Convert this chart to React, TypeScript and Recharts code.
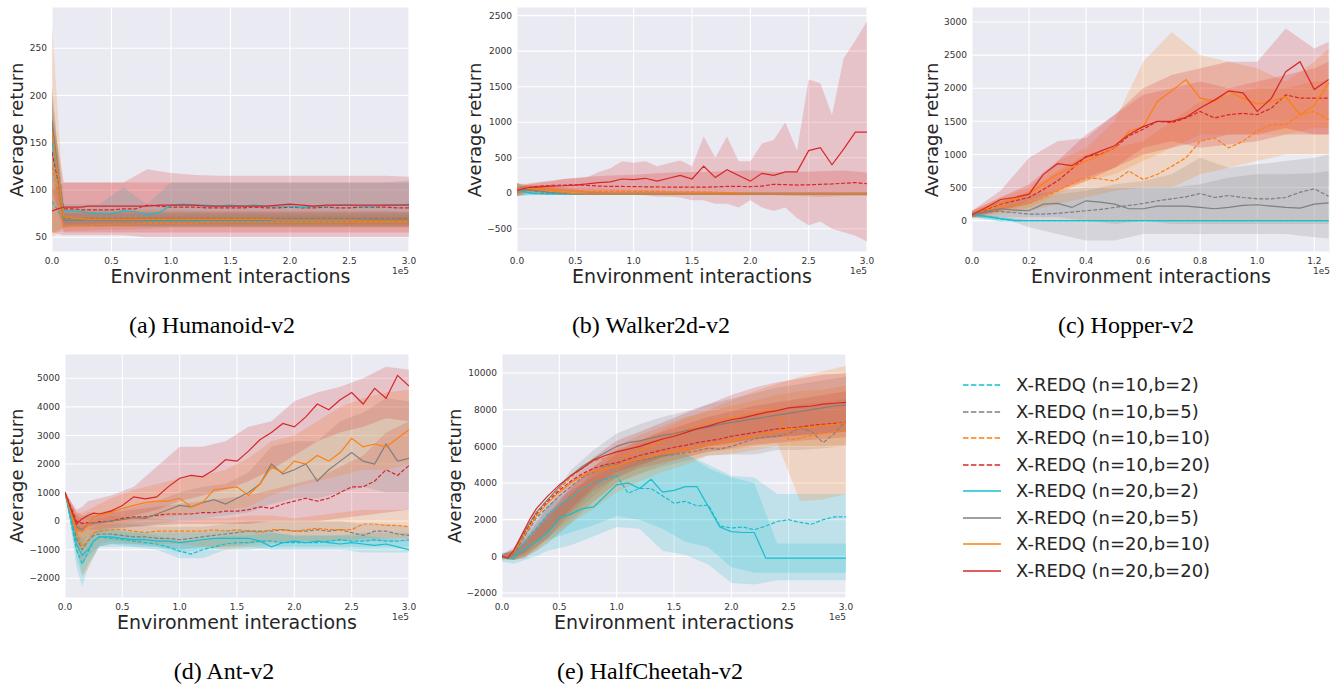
import React from "react";
import { ComposedChart, Line, Area, XAxis, YAxis, CartesianGrid } from "recharts";

const SANS = "'DejaVu Sans', Verdana, sans-serif";
const SERIF = "'Liberation Serif', 'Times New Roman', serif";
const INK = "#262626";

// legend / drawing order
const seriesNames = [
  "X-REDQ (n=10,b=2)",
  "X-REDQ (n=10,b=5)",
  "X-REDQ (n=10,b=10)",
  "X-REDQ (n=10,b=20)",
  "X-REDQ (n=20,b=2)",
  "X-REDQ (n=20,b=5)",
  "X-REDQ (n=20,b=10)",
  "X-REDQ (n=20,b=20)",
];
const seriesColors = ["#17becf", "#7f7f7f", "#ff7f0e", "#d62728", "#17becf", "#7f7f7f", "#ff7f0e", "#d62728"];
const seriesDashed = [true, true, true, true, false, false, false, false];

// x values in units of 1e5 environment interactions
const xMain = [0, 0.05, 0.1, 0.15, 0.2, 0.25, 0.3, 0.4, 0.5, 0.6, 0.7, 0.8, 0.9, 1.0, 1.1, 1.2, 1.3, 1.4, 1.5, 1.6, 1.7, 1.8, 1.9, 2.0, 2.1, 2.2, 2.3, 2.4, 2.5, 2.6, 2.7, 2.8, 2.9, 3.0];
const xBand = [0, 0.1, 0.2, 0.3, 0.4, 0.6, 0.8, 1.0, 1.2, 1.4, 1.6, 1.8, 2.0, 2.2, 2.4, 2.6, 2.8, 3.0];
const xBandAnt = [0, 0.05, 0.1, 0.15, 0.2, 0.3, 0.4, 0.6, 0.8, 1.0, 1.2, 1.4, 1.6, 1.8, 2.0, 2.2, 2.4, 2.6, 2.8, 3.0];
const xTenths = [0, 0.1, 0.2, 0.3, 0.4, 0.5, 0.6, 0.7, 0.8, 0.9, 1.0, 1.1, 1.2, 1.3, 1.4, 1.5, 1.6, 1.7, 1.8, 1.9, 2.0, 2.1, 2.2, 2.3, 2.4, 2.5, 2.6, 2.7, 2.8, 2.9, 3.0];
const xHopper = [0, 0.05, 0.1, 0.15, 0.2, 0.25, 0.3, 0.35, 0.4, 0.45, 0.5, 0.55, 0.6, 0.65, 0.7, 0.75, 0.8, 0.85, 0.9, 0.95, 1.0, 1.05, 1.1, 1.15, 1.2, 1.25];
const xBandHopper = [0, 0.1, 0.2, 0.3, 0.4, 0.5, 0.6, 0.7, 0.8, 0.9, 1.0, 1.1, 1.2, 1.25];

const xTicksLong = [0, 0.5, 1, 1.5, 2, 2.5, 3];
const xTicksHopper = [0, 0.2, 0.4, 0.6, 0.8, 1.0, 1.2];

// ---------- (a) Humanoid-v2 ----------
const humanoidMeans = [
  [88, 78, 68, 68, 68, 68, 68, 68, 68, 68, 68, 67, 67, 67, 67, 67, 67, 67, 67, 67, 67, 67, 67, 67, 67, 67, 67, 67, 68, 67, 67, 67, 67, 67],
  [165, 118, 71, 70, 70, 70, 70, 70, 70, 70, 70, 70, 70, 70, 70, 70, 70, 70, 70, 70, 70, 70, 70, 70, 70, 70, 70, 70, 70, 70, 70, 70, 70, 70],
  [125, 94, 62, 62, 63, 63, 63, 64, 64, 64, 64, 65, 65, 65, 65, 65, 66, 66, 66, 66, 66, 66, 66, 66, 66, 66, 66, 66, 66, 66, 66, 66, 66, 66],
  [140, 110, 80, 80, 80, 79, 79, 79, 79, 80, 80, 84, 83, 82, 82, 82, 81, 81, 81, 81, 82, 81, 81, 82, 81, 81, 82, 81, 81, 82, 82, 82, 81, 81],
  [152, 115, 78, 78, 78, 77, 76, 75, 75, 78, 77, 74, 76, 84, 85, 84, 84, 83, 84, 83, 84, 83, 83, 83, 82, 83, 83, 84, 84, 83, 83, 84, 84, 85],
  [173, 120, 68, 68, 68, 68, 68, 68, 68, 68, 68, 68, 68, 68, 68, 68, 68, 68, 68, 68, 68, 68, 68, 68, 68, 68, 68, 68, 68, 68, 68, 68, 68, 68],
  [162, 117, 72, 71, 70, 70, 69, 69, 69, 69, 69, 69, 69, 69, 69, 69, 69, 69, 69, 69, 69, 69, 68, 68, 68, 68, 68, 68, 68, 67, 67, 67, 67, 67],
  [78, 80, 82, 82, 82, 82, 83, 83, 83, 83, 83, 83, 84, 84, 84, 84, 83, 83, 83, 83, 83, 83, 84, 85, 84, 83, 84, 84, 84, 84, 84, 84, 84, 84],
];
const humanoidLo = [
  [55, 60, 61, 61, 61, 61, 61, 61, 61, 61, 61, 61, 61, 61, 61, 61, 61, 61],
  [125, 64, 64, 64, 64, 64, 64, 64, 64, 64, 64, 64, 64, 64, 64, 64, 64, 64],
  [55, 56, 57, 57, 58, 58, 59, 60, 60, 60, 60, 60, 60, 60, 60, 60, 60, 60],
  [100, 55, 55, 55, 55, 55, 55, 55, 55, 55, 55, 55, 55, 55, 55, 55, 55, 55],
  [110, 62, 62, 62, 62, 62, 62, 62, 62, 62, 62, 62, 62, 62, 62, 62, 62, 62],
  [130, 62, 62, 62, 62, 62, 62, 62, 62, 62, 62, 62, 62, 62, 62, 62, 62, 62],
  [50, 60, 61, 61, 61, 61, 61, 61, 61, 61, 61, 61, 61, 61, 61, 61, 61, 61],
  [55, 52, 52, 52, 52, 52, 50, 50, 50, 50, 50, 50, 50, 50, 50, 50, 50, 50],
];
const humanoidHi = [
  [120, 76, 75, 75, 75, 75, 75, 74, 74, 74, 74, 74, 74, 74, 74, 74, 74, 74],
  [205, 78, 77, 77, 77, 77, 77, 77, 77, 77, 77, 77, 77, 77, 77, 77, 77, 77],
  [195, 70, 70, 70, 70, 71, 71, 72, 72, 72, 72, 72, 72, 72, 72, 72, 72, 72],
  [180, 108, 108, 108, 108, 108, 108, 108, 108, 108, 108, 108, 108, 108, 108, 108, 108, 108],
  [195, 85, 85, 85, 85, 103, 85, 108, 108, 108, 108, 108, 108, 108, 108, 108, 108, 110],
  [210, 76, 76, 76, 76, 76, 76, 76, 76, 76, 76, 76, 76, 76, 76, 76, 76, 76],
  [275, 82, 80, 79, 79, 79, 79, 79, 78, 78, 78, 78, 78, 78, 78, 78, 78, 77],
  [100, 108, 108, 108, 108, 108, 122, 118, 116, 115, 115, 115, 115, 115, 115, 115, 115, 114],
];

// ---------- (b) Walker2d-v2 ----------
const walkerMeans = [
  [50, 30, 10, 0, -5, -8, -10, -10, -10, -10, -10, -10, -10, -10, -10, -10, -10, -10, -10, -10, -10, -10, -10, -10, -10, -10, -10, -10, -10, -10, -10, -10, -10, -10],
  [40, 50, 40, 30, 20, 10, 5, -5, -10, -10, -10, -10, -10, -10, -10, -10, -10, -10, -10, -10, -10, -10, -10, -10, -10, -10, -10, -10, -10, -10, -10, -10, -10, -10],
  [60, 55, 50, 45, 40, 40, 40, 35, 30, 25, 25, 25, 25, 25, 25, 25, 20, 20, 20, 20, 15, 10, 5, -5, -10, -10, -10, -10, -10, -10, -10, -10, -10, -10],
  [40, 60, 80, 90, 100, 105, 110, 115, 117, 110, 100, 95, 95, 93, 90, 88, 86, 85, 85, 85, 90, 95, 95, 93, 100, 125, 120, 115, 118, 125, 130, 140, 150, 133],
  [50, 25, 5, -5, -8, -10, -10, -10, -10, -10, -10, -10, -10, -10, -10, -10, -10, -10, -10, -10, -10, -10, -10, -10, -10, -10, -10, -10, -10, -10, -10, -10, -10, -10],
  [40, 55, 50, 40, 30, 20, 10, 0, -10, -10, -10, -10, -10, -10, -10, -10, -10, -10, -10, -10, -10, -10, -10, -10, -10, -10, -10, -10, -10, -10, -10, -10, -10, -10],
  [40, 60, 70, 60, 50, 40, 30, 10, -5, -10, -10, -10, -10, -10, -10, -10, -10, -10, -10, -10, -10, -10, -10, -10, -10, -10, -10, -10, -10, -10, -10, -10, -10, -10],
  [40, 60, 80, 85, 90, 95, 100, 105, 115, 130, 150, 160, 200, 190, 210, 170, 210, 250, 200, 380, 220, 330, 250, 170, 280, 250, 300, 300, 600, 640, 400, 620, 860, 860],
];
const walkerLo = [
  [-40, -30, -25, -25, -25, -25, -25, -25, -25, -25, -25, -25, -25, -25, -25, -25, -25, -25],
  [-40, -10, -10, -15, -20, -20, -25, -25, -25, -25, -25, -25, -25, -25, -25, -25, -25, -25],
  [-40, 10, 0, 0, 0, -10, -10, -10, -10, -10, -15, -15, -20, -20, -20, -20, -20, -20],
  [0, 30, 30, 20, 10, 0, -10, -10, -20, -20, -20, -30, -30, -30, -40, -50, -40, -40],
  [-40, -30, -25, -25, -25, -25, -25, -25, -25, -25, -25, -25, -25, -25, -25, -25, -25, -25],
  [-40, 0, 0, -10, -20, -20, -25, -25, -25, -25, -25, -25, -25, -25, -25, -25, -25, -25],
  [-40, 20, 0, -10, -20, -25, -25, -25, -25, -25, -25, -25, -25, -25, -25, -25, -25, -25],
  null,
];
const walkerHi = [
  [140, 50, 15, 10, 10, 10, 10, 10, 10, 10, 10, 10, 10, 10, 10, 10, 10, 10],
  [140, 100, 80, 60, 40, 20, 10, 10, 10, 10, 10, 10, 10, 10, 10, 10, 10, 10],
  [140, 110, 100, 90, 80, 70, 60, 50, 40, 30, 20, 15, 10, 10, 10, 10, 10, 10],
  [80, 140, 160, 180, 200, 230, 250, 260, 280, 300, 300, 310, 320, 300, 300, 310, 320, 290],
  [140, 40, 10, 10, 10, 10, 10, 10, 10, 10, 10, 10, 10, 10, 10, 10, 10, 10],
  [140, 110, 100, 80, 60, 30, 10, 10, 10, 10, 10, 10, 10, 10, 10, 10, 10, 10],
  [140, 130, 110, 100, 80, 30, 10, 10, 10, 10, 10, 10, 10, 10, 10, 10, 10, 10],
  null,
];
// n=20,b=20 band in Walker2d is very spiky: read every 0.1e5
const walkerRedLo = [-20, 40, 50, 40, 30, 20, 10, -10, -20, -10, -20, -30, -50, -50, -60, -100, -100, -150, -150, -200, -100, -200, -250, -200, -350, -450, -400, -500, -550, -600, -680];
const walkerRedHi = [80, 120, 150, 170, 200, 210, 220, 300, 350, 450, 430, 450, 380, 420, 460, 380, 800, 500, 800, 450, 450, 700, 750, 1000, 600, 1600, 1550, 1100, 1900, 2150, 2420];

// ---------- (c) Hopper-v2 ----------
const hopperMeans = [
  [90, 60, 25, 0, 0, 0, 0, 0, 0, 0, 0, 0, 0, 0, 0, 0, 0, 0, 0, 0, 0, 0, 0, 0, 0, 0],
  [90, 130, 140, 120, 100, 100, 110, 130, 150, 170, 200, 230, 260, 300, 330, 360, 410, 350, 380, 350, 330, 330, 350, 430, 480, 370],
  [90, 150, 200, 230, 260, 350, 450, 560, 650, 630, 600, 750, 620, 700, 820, 950, 1200, 1250, 1100, 1200, 1350, 1450, 1450, 1600, 1650, 1520],
  [90, 170, 250, 300, 350, 470, 600, 780, 970, 1000, 1100, 1280, 1380, 1500, 1480, 1550, 1650, 1550, 1600, 1620, 1600, 1700, 1900, 1850, 1850, 1850],
  [95, 65, 30, 2, 0, 0, 0, 0, 0, 0, 0, 0, 0, 0, 0, 0, 0, 0, 0, 0, 0, 0, 0, 0, 0, 0],
  [80, 140, 180, 160, 150, 250, 260, 200, 300, 280, 250, 180, 180, 220, 220, 220, 200, 180, 200, 230, 240, 220, 200, 190, 250, 270],
  [90, 180, 260, 330, 400, 560, 700, 800, 900, 990, 1100, 1350, 1420, 1800, 1960, 2130, 1850, 1800, 1950, 1850, 1760, 1800, 1870, 1600, 1740, 2080],
  [90, 200, 320, 350, 400, 700, 860, 830, 960, 1050, 1130, 1300, 1420, 1500, 1500, 1560, 1700, 1820, 1960, 1930, 1650, 1850, 2250, 2400, 1980, 2130],
];
const hopperLo = [
  [60, -10, -5, -3, 0, 0, 0, 0, 0, 0, 0, 0, 0, 0],
  [50, 50, -100, -200, -300, -300, -200, -200, -200, -200, -200, -200, -250, -270],
  [50, 100, 150, 250, 350, 450, 500, 500, 700, 800, 900, 1000, 1000, 1000],
  [50, 150, 300, 450, 650, 800, 1100, 1200, 1100, 1150, 1200, 1300, 1300, 1300],
  [60, -15, -5, -3, 0, 0, 0, 0, 0, 0, 0, 0, 0, 0],
  [40, 50, 50, 50, 0, -50, 0, -50, -50, -50, -50, -50, -50, -50],
  [40, 150, 200, 400, 600, 700, 900, 1100, 1300, 1300, 1300, 1300, 1400, 1400],
  [50, 150, 250, 450, 600, 800, 1000, 1100, 1200, 1300, 1300, 1400, 1300, 1300],
];
const hopperHi = [
  [110, 50, 5, 3, 0, 0, 0, 0, 0, 0, 0, 0, 0, 0],
  [130, 200, 300, 400, 450, 550, 600, 700, 950, 800, 850, 900, 950, 1000],
  [150, 300, 450, 750, 1000, 1100, 1200, 1500, 1800, 1900, 2000, 2000, 2100, 2100],
  [150, 350, 550, 900, 1300, 1600, 1900, 2000, 2100, 2000, 2100, 2200, 2300, 2400],
  [115, 55, 5, 3, 0, 0, 0, 0, 0, 0, 0, 0, 0, 0],
  [120, 300, 400, 450, 500, 500, 500, 500, 550, 650, 700, 700, 720, 750],
  [150, 350, 500, 900, 1100, 1500, 2400, 2850, 2500, 2400, 2300, 2100, 2400, 2600],
  [150, 450, 950, 1200, 1250, 1600, 2000, 2200, 2300, 2400, 2400, 2900, 2600, 2700],
];

// ---------- (d) Ant-v2 ----------
const antMeans = [
  [1000, 0, -1000, -1500, -1100, -700, -550, -600, -650, -700, -750, -800, -900, -1050, -1150, -1000, -900, -800, -750, -750, -700, -700, -750, -750, -750, -750, -700, -650, -700, -700, -650, -700, -700, -650],
  [1000, 200, -600, -1000, -700, -500, -450, -450, -500, -550, -550, -600, -600, -650, -600, -550, -500, -450, -400, -350, -350, -350, -300, -350, -350, -300, -350, -300, -400, -500, -350, -350, -450, -500],
  [1000, 200, -400, -900, -700, -400, -350, -300, -300, -350, -400, -350, -350, -350, -350, -350, -300, -350, -300, -350, -400, -300, -300, -350, -300, -250, -300, -300, -300, -100, -100, -150, -150, -200],
  [1000, 500, 0, -80, -50, -50, -20, 0, 100, 150, 150, 200, 250, 250, 250, 300, 300, 350, 350, 400, 500, 450, 600, 700, 800, 700, 800, 1000, 1200, 1200, 1400, 1800, 1600, 1950],
  [1000, 100, -800, -1200, -1000, -700, -550, -550, -600, -650, -650, -700, -700, -750, -700, -650, -600, -600, -600, -600, -700, -900, -750, -700, -750, -700, -750, -800, -750, -800, -850, -800, -900, -1000],
  [1000, 400, -200, -300, -100, -50, -50, 0, 50, 120, 100, 250, 400, 550, 500, 650, 750, 600, 800, 1000, 1300, 2000, 1650, 1800, 2000, 1400, 1800, 2100, 2400, 2100, 2000, 2700, 2100, 2200],
  [1000, 300, -300, -380, -100, 150, 200, 300, 450, 550, 650, 700, 700, 800, 500, 650, 1100, 1150, 1200, 900, 1300, 1900, 1700, 2100, 2000, 2300, 2100, 2400, 2900, 2600, 2700, 2600, 2900, 3200],
  [1000, 450, -100, 80, 200, 280, 250, 350, 550, 850, 780, 850, 1200, 1500, 1600, 1550, 1800, 2150, 2100, 2450, 2850, 3100, 3420, 3300, 3650, 4100, 3900, 4250, 4500, 4100, 4650, 4300, 5100, 4730],
];
const antLo = [
  [950, -200, -1600, -2300, -1600, -900, -900, -900, -1000, -1300, -1300, -1000, -1000, -900, -900, -900, -900, -900, -900, -900],
  [950, 0, -1100, -1500, -1200, -900, -800, -800, -900, -1000, -900, -900, -800, -700, -700, -700, -700, -700, -700, -700],
  [950, 0, -900, -1900, -1700, -800, -700, -800, -800, -800, -900, -1000, -900, -800, -700, -700, -700, -600, -600, -600],
  [950, 200, -300, -400, -300, -300, -250, -200, -150, -100, -100, -100, -100, 0, 0, 0, 100, 200, 300, 400],
  [950, -100, -1300, -1900, -1500, -900, -800, -900, -900, -1100, -1000, -900, -900, -1000, -1000, -1000, -1000, -1100, -1100, -1100],
  [950, 100, -700, -800, -500, -400, -300, -200, -100, 0, 100, 200, 300, 600, 800, 800, 1000, 1200, 1000, 1000],
  [950, 100, -900, -1000, -600, -300, -200, 0, 100, 200, 300, 400, 500, 900, 1200, 1400, 1600, 1800, 1800, 2000],
  [950, 200, -400, -300, -200, -100, 0, 200, 400, 700, 900, 1100, 1400, 1800, 2300, 2800, 3100, 3300, 3600, 3500],
];
const antHi = [
  [1050, 300, -400, -800, -600, -300, -300, -400, -500, -700, -700, -500, -500, -400, -500, -500, -500, -400, -400, -400],
  [1050, 400, 0, -400, -300, -100, -100, -100, -200, -200, -200, -100, 0, 0, 0, 0, 0, -100, -100, -200],
  [1050, 400, 200, -100, 0, 100, 200, 100, 100, 0, 100, 100, 200, 200, 100, 200, 300, 400, 400, 400],
  [1050, 700, 300, 200, 200, 200, 300, 400, 500, 600, 700, 800, 900, 1100, 1300, 1500, 1900, 2300, 3100, 3500],
  [1050, 300, -300, -600, -500, -300, -300, -400, -400, -400, -400, -300, -300, -400, -500, -500, -500, -500, -600, -700],
  [1050, 600, 200, 100, 300, 300, 400, 500, 700, 1000, 1200, 1300, 1700, 2600, 2800, 2800, 3500, 3800, 4300, 4200],
  [1050, 600, 300, 300, 400, 600, 800, 1100, 1300, 1500, 1600, 1800, 2200, 2800, 3000, 3500, 4000, 4300, 4500, 4600],
  [1050, 700, 400, 500, 700, 800, 900, 1200, 1900, 2600, 2600, 2800, 3300, 3500, 4200, 4500, 4700, 5000, 5400, 5300],
];

// ---------- (e) HalfCheetah-v2 ----------
const cheetahMeans = [
  [0, -100, 0, 400, 800, 1200, 1500, 2300, 2800, 3200, 3700, 4000, 4200, 4400, 3450, 3700, 3700, 3300, 2900, 3000, 2750, 2800, 1650, 1550, 1600, 1450, 1650, 1900, 2000, 1850, 1750, 2000, 2150, 2150],
  [0, -100, 100, 600, 1100, 1600, 2100, 2700, 3300, 3800, 4300, 4600, 4900, 5000, 5150, 5250, 5350, 5500, 5550, 5650, 5750, 5900, 5850, 6000, 6200, 6400, 6500, 6550, 6700, 7000, 6800, 6200, 6700, 7400],
  [0, -100, 200, 800, 1400, 1900, 2400, 3100, 3700, 4300, 4800, 5200, 5350, 5450, 5550, 5800, 6000, 6300, 6600, 6900, 7100, 7300, 7450, 7550, 7700, 7850, 7950, 8050, 6350, 6450, 6600, 6700, 6800, 6900],
  [0, -100, 200, 700, 1300, 1800, 2300, 3000, 3600, 4100, 4500, 4800, 5000, 5100, 5300, 5500, 5650, 5800, 5950, 6050, 6200, 6300, 6400, 6550, 6650, 6750, 6850, 6950, 7000, 7050, 7150, 7200, 7250, 7300],
  [0, -100, -100, 200, 400, 600, 800, 1300, 2100, 2300, 2600, 2700, 3300, 3900, 4000, 3700, 4200, 3500, 3600, 3800, 3800, 2700, 1600, 1350, 1300, 1300, -100, -100, -100, -100, -100, -100, -100, -100],
  [0, -100, 200, 800, 1400, 1900, 2400, 3100, 3800, 4400, 4900, 5300, 5650, 6000, 6200, 6300, 6450, 6600, 6700, 6850, 6950, 7050, 7200, 7300, 7400, 7500, 7600, 7700, 7800, 7900, 8000, 8100, 8200, 8250],
  [0, -100, 200, 700, 1200, 1700, 2200, 2900, 3500, 4000, 4400, 4650, 4800, 4950, 5150, 5300, 5450, 5600, 5750, 5850, 5950, 6100, 6200, 6300, 6450, 6550, 6700, 6800, 6950, 7000, 7050, 7150, 7200, 7300],
  [0, -100, 300, 900, 1500, 2100, 2600, 3300, 3900, 4400, 4800, 5250, 5500, 5700, 5850, 6000, 6200, 6400, 6550, 6750, 6950, 7100, 7300, 7450, 7550, 7700, 7850, 7950, 8100, 8150, 8200, 8300, 8350, 8400],
];
const cheetahLo = [
  [-200, -200, 200, 600, 900, 1300, 1700, 2200, 2000, 1500, 800, 500, -600, -900, -900, -900, -900, -900],
  [-100, -200, -100, 300, 700, 1800, 3000, 4000, 4500, 4900, 5200, 5500, 5550, 5550, 5800, 5800, 5900, 6000],
  [-100, -200, -100, 400, 1000, 2000, 3000, 4000, 4500, 5000, 5400, 5700, 5800, 6000, 6200, 3000, 3100, 3400],
  [-100, -200, 0, 500, 1000, 2400, 3600, 4300, 4800, 5100, 5400, 5700, 5900, 6100, 6200, 6300, 6400, 6500],
  [-300, -400, -200, 0, 300, 600, 1100, 1600, 1500, 300, 70, -450, -1450, -1540, -1300, -1300, -1300, -1300],
  [-100, -200, 0, 500, 1000, 2200, 3300, 4300, 4900, 5400, 5700, 6000, 6200, 6400, 6500, 6600, 6700, 6800],
  [-100, -200, 0, 300, 800, 1800, 2600, 3500, 4100, 4600, 5000, 5500, 5600, 5800, 6000, 6000, 6000, 6100],
  [-100, -100, 200, 800, 1300, 2600, 3800, 4600, 5000, 5400, 5700, 6000, 6200, 6400, 6500, 6600, 6700, 6800],
];
const cheetahHi = [
  [200, 200, 1200, 2000, 2800, 3600, 4300, 5000, 5400, 5600, 5600, 5000, 4400, 4300, 3400, 3400, 3400, 3400],
  [100, 300, 700, 1400, 2100, 3400, 4600, 5600, 6100, 6500, 6900, 7200, 7500, 7800, 8000, 8300, 8400, 8600],
  [100, 300, 800, 1500, 2200, 3800, 4900, 6000, 6600, 7100, 7600, 7900, 8200, 8500, 8800, 9000, 9100, 9300],
  [100, 300, 800, 1600, 2300, 3700, 4900, 5800, 6300, 6800, 7200, 7600, 7900, 8200, 8400, 8600, 8800, 9000],
  [200, 300, 900, 1500, 2300, 3200, 3800, 4600, 5200, 5500, 5600, 4800, 4300, 4000, 700, 700, 700, 700],
  [100, 500, 1200, 2000, 2900, 4700, 5800, 6700, 7200, 7600, 7900, 8300, 8600, 8900, 9200, 9400, 9600, 9800],
  [100, 300, 700, 1400, 2000, 3400, 4500, 5600, 6300, 6900, 7500, 8000, 8500, 9000, 9400, 9800, 10100, 10400],
  [100, 400, 1000, 1800, 2700, 4200, 5400, 6300, 6800, 7300, 7800, 8300, 8800, 9200, 9500, 9700, 9900, 10000],
];

type Row = { x: number; [k: string]: number | number[] };

function lineRows(xs: number[], ys: number[][]): Row[] {
  return xs.map((x, k) => {
    const r: Row = { x };
    ys.forEach((s, i) => {
      r[`s${i}`] = s[k];
    });
    return r;
  });
}

function bandRows(xs: number[], lo: (number[] | null)[], hi: (number[] | null)[]): Row[] {
  return xs.map((x, k) => {
    const r: Row = { x };
    lo.forEach((l, i) => {
      const h = hi[i];
      if (l && h) r[`b${i}`] = [l[k], h[k]];
    });
    return r;
  });
}

type Panel = {
  caption: string;
  captionX: number;
  captionY: number;
  left: number;
  top: number;
  right: number;
  bottom: number;
  yLabelX: number;
  xDomain: [number, number];
  xTicks: number[];
  yDomain: [number, number];
  yTicks: number[];
  lines: Row[];
  bands: Row[];
  bandSeries: number[];
  extra?: Row[];
  extraSeries?: number[];
};

const panels: Panel[] = [
  {
    caption: "(a) Humanoid-v2", captionX: 212, captionY: 325,
    left: 52, top: 7, right: 409, bottom: 252, yLabelX: 17,
    xDomain: [0, 3], xTicks: xTicksLong,
    yDomain: [34.4, 293.7], yTicks: [50, 100, 150, 200, 250],
    lines: lineRows(xMain, humanoidMeans),
    bands: bandRows(xBand, humanoidLo, humanoidHi),
    bandSeries: [0, 1, 2, 3, 4, 5, 6, 7],
  },
  {
    caption: "(b) Walker2d-v2", captionX: 651, captionY: 325,
    left: 517, top: 7, right: 867, bottom: 252, yLabelX: 475,
    xDomain: [0, 3], xTicks: xTicksLong,
    yDomain: [-828, 2622], yTicks: [-500, 0, 500, 1000, 1500, 2000, 2500],
    lines: lineRows(xMain, walkerMeans),
    bands: bandRows(xBand, walkerLo, walkerHi),
    bandSeries: [0, 1, 2, 3, 4, 5, 6],
    extra: bandRows(xTenths, [null, null, null, null, null, null, null, walkerRedLo], [null, null, null, null, null, null, null, walkerRedHi]),
    extraSeries: [7],
  },
  {
    caption: "(c) Hopper-v2", captionX: 1126, captionY: 325,
    left: 972, top: 7, right: 1330, bottom: 252, yLabelX: 932,
    xDomain: [0, 1.255], xTicks: xTicksHopper,
    yDomain: [-473, 3226], yTicks: [0, 500, 1000, 1500, 2000, 2500, 3000],
    lines: lineRows(xHopper, hopperMeans),
    bands: bandRows(xBandHopper, hopperLo, hopperHi),
    bandSeries: [0, 1, 2, 3, 4, 5, 6, 7],
  },
  {
    caption: "(d) Ant-v2", captionX: 224, captionY: 671,
    left: 65, top: 354, right: 409, bottom: 598, yLabelX: 17,
    xDomain: [0, 3], xTicks: xTicksLong,
    yDomain: [-2690, 5850], yTicks: [-2000, -1000, 0, 1000, 2000, 3000, 4000, 5000],
    lines: lineRows(xMain, antMeans),
    bands: bandRows(xBandAnt, antLo, antHi),
    bandSeries: [0, 1, 2, 3, 4, 5, 6, 7],
  },
  {
    caption: "(e) HalfCheetah-v2", captionX: 650, captionY: 671,
    left: 502, top: 354, right: 846, bottom: 598, yLabelX: 455,
    xDomain: [0, 3], xTicks: xTicksLong,
    yDomain: [-2273, 11036], yTicks: [-2000, 0, 2000, 4000, 6000, 8000, 10000],
    lines: lineRows(xMain, cheetahMeans),
    bands: bandRows(xBand, cheetahLo, cheetahHi),
    bandSeries: [0, 1, 2, 3, 4, 5, 6, 7],
  },
];

const PAD_L = 60;
const PAD_T = 4;
const PAD_R = 12;
const PAD_B = 45;

const tickStyle = { fontSize: 9, fill: "#333333", fontFamily: SANS };
const fmtY = (v: number) => (v < 0 ? `\u2212${Math.abs(v)}` : `${v}`);

function Layer({ p, data, base, children }: { p: Panel; data: Row[]; base?: boolean; children: React.ReactNode }) {
  const w = p.right - p.left + PAD_L + PAD_R;
  const h = p.bottom - p.top + PAD_T + PAD_B;
  return (
    <div style={{ position: "absolute", left: p.left - PAD_L, top: p.top - PAD_T }}>
      <ComposedChart width={w} height={h} data={data} margin={{ top: PAD_T, right: PAD_R, bottom: 0, left: 0 }}>
        {base && <CartesianGrid fill="#eaeaf2" fillOpacity={1} stroke="#ffffff" strokeWidth={1.1} />}
        <XAxis
          type="number"
          dataKey="x"
          domain={p.xDomain}
          ticks={p.xTicks}
          allowDataOverflow
          interval={0}
          height={PAD_B}
          axisLine={false}
          tickLine={false}
          tickSize={0}
          tickMargin={6}
          tick={base ? tickStyle : false}
          tickFormatter={(v: number) => v.toFixed(1)}
        />
        <YAxis
          type="number"
          domain={p.yDomain}
          ticks={p.yTicks}
          allowDataOverflow
          interval={0}
          width={PAD_L}
          axisLine={false}
          tickLine={false}
          tickSize={0}
          tickMargin={5}
          tick={base ? tickStyle : false}
          tickFormatter={fmtY}
        />
        {children}
      </ComposedChart>
    </div>
  );
}

function bandAreas(series: number[]) {
  return series.map((i) => (
    <Area
      key={`b${i}`}
      type="linear"
      dataKey={`b${i}`}
      stroke="none"
      fill={seriesColors[i]}
      fillOpacity={0.2}
      dot={false}
      activeDot={false}
      isAnimationActive={false}
    />
  ));
}

function PanelView({ p }: { p: Panel }) {
  const cx = (p.left + p.right) / 2;
  const cy = (p.top + p.bottom) / 2;
  return (
    <>
      <Layer p={p} data={p.bands} base>
        {bandAreas(p.bandSeries)}
      </Layer>
      {p.extra && p.extraSeries && (
        <Layer p={p} data={p.extra}>
          {bandAreas(p.extraSeries)}
        </Layer>
      )}
      <Layer p={p} data={p.lines}>
        {seriesNames.map((_, i) => (
          <Line
            key={`s${i}`}
            type="linear"
            dataKey={`s${i}`}
            stroke={seriesColors[i]}
            strokeWidth={1.2}
            strokeDasharray={seriesDashed[i] ? "4 1.8" : undefined}
            dot={false}
            activeDot={false}
            isAnimationActive={false}
          />
        ))}
      </Layer>
      <div
        style={{
          position: "absolute",
          left: p.yLabelX,
          top: cy,
          transform: "translate(-50%, -50%) rotate(-90deg)",
          fontFamily: SANS,
          fontSize: 18,
          color: INK,
          whiteSpace: "nowrap",
          lineHeight: 1,
        }}
      >
        Average return
      </div>
      <div
        style={{
          position: "absolute",
          left: cx,
          top: p.bottom + 24,
          transform: "translate(-50%, -50%)",
          fontFamily: SANS,
          fontSize: 19,
          color: INK,
          whiteSpace: "nowrap",
          lineHeight: 1,
        }}
      >
        Environment interactions
      </div>
      <div
        style={{
          position: "absolute",
          left: p.right,
          top: p.bottom + 19,
          transform: "translate(-100%, -50%)",
          fontFamily: SANS,
          fontSize: 9,
          color: "#333333",
          lineHeight: 1,
        }}
      >
        1e5
      </div>
      <div
        style={{
          position: "absolute",
          left: p.captionX,
          top: p.captionY,
          transform: "translate(-50%, -50%)",
          fontFamily: SERIF,
          fontSize: 24,
          color: "#000000",
          whiteSpace: "nowrap",
          lineHeight: 1,
        }}
      >
        {p.caption}
      </div>
    </>
  );
}

function LegendBox() {
  return (
    <div style={{ position: "absolute", left: 960, top: 372 }}>
      {seriesNames.map((name, i) => (
        <div key={name} style={{ position: "absolute", left: 0, top: i * 26.5, height: 26, width: 280 }}>
          <svg width={44} height={26} style={{ position: "absolute", left: 0, top: 0 }}>
            <line
              x1={3}
              x2={41}
              y1={13}
              y2={13}
              stroke={seriesColors[i]}
              strokeWidth={1.6}
              strokeDasharray={seriesDashed[i] ? "5.5 2.4" : undefined}
            />
          </svg>
          <span
            style={{
              position: "absolute",
              left: 56,
              top: 13,
              transform: "translateY(-50%)",
              fontFamily: SANS,
              fontSize: 18,
              color: INK,
              whiteSpace: "nowrap",
              lineHeight: 1,
            }}
          >
            {name}
          </span>
        </div>
      ))}
    </div>
  );
}

export default function App() {
  return (
    <div style={{ position: "absolute", left: 0, top: 0, width: 1341, height: 687, background: "#ffffff", overflow: "hidden" }}>
      {panels.map((p) => (
        <PanelView key={p.caption} p={p} />
      ))}
      <LegendBox />
    </div>
  );
}
